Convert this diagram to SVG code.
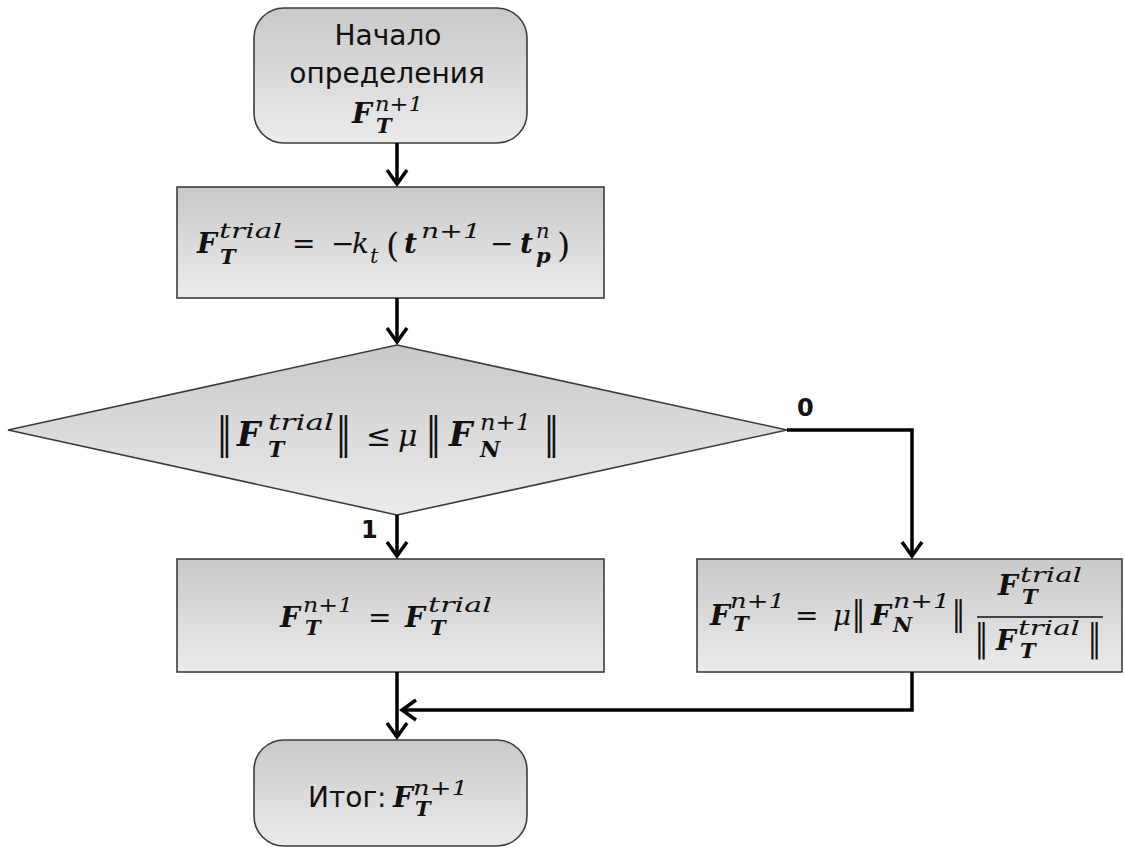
<svg xmlns="http://www.w3.org/2000/svg" width="1125" height="848" viewBox="0 0 1125 848">
  <defs>
    <linearGradient id="fillGrad" x1="0" y1="0" x2="0" y2="1">
      <stop offset="0" stop-color="#c9c9c9"/>
      <stop offset="1" stop-color="#ebebeb"/>
    </linearGradient>
    <marker id="arrow" markerUnits="userSpaceOnUse" viewBox="-18 -13 22 26" refX="0" refY="0" markerWidth="22" markerHeight="26" orient="auto">
      <path d="M-14,-10 L0,0 L-14,10" fill="none" stroke="#000" stroke-width="3.5"/>
    </marker>
  </defs>
  <style>
    .box { fill: url(#fillGrad); stroke: #3c3c3c; stroke-width: 1.6; }
    .wire { fill: none; stroke: #000; stroke-width: 3.5; marker-end: url(#arrow); }
    .txt { font-family: "DejaVu Sans", Verdana, sans-serif; font-size: 28px; fill: #111; }
    .mid { text-anchor: middle; }
    .lbl { font-family: "DejaVu Sans", Verdana, sans-serif; font-weight: bold; font-size: 24px; fill: #111; }
    .m { font-family: "DejaVu Serif", "Liberation Serif", serif; font-size: 28px; fill: #111; }
    .F { font-weight: bold; font-style: italic; }
    .i { font-style: italic; }
    .s { font-size: 21px; }
    .bar { font-family: "DejaVu Sans", sans-serif; font-size: 26px; fill: #111; }
    .par { font-size: 34px; }
    .frac { stroke: #111; stroke-width: 1.6; }
  </style>

  <!-- start terminal -->
  <g id="start">
    <rect class="box" x="254" y="8" width="273" height="135" rx="30"/>
    <text class="txt mid" x="388" y="45">Начало</text>
    <text class="txt mid" x="387" y="83">определения</text>
    <text class="m">
      <tspan class="F" x="352" y="123">F</tspan>
      <tspan class="i s" x="375" y="111" textLength="48" lengthAdjust="spacingAndGlyphs">n+1</tspan>
      <tspan class="F s" x="376" y="133">T</tspan>
    </text>
  </g>

  <!-- trial force -->
  <g id="trial">
    <rect class="box" x="177" y="187" width="427" height="111"/>
    <text class="m">
      <tspan class="F" x="197" y="253">F</tspan>
      <tspan class="i s" x="219" y="238" textLength="63" lengthAdjust="spacingAndGlyphs">trial</tspan>
      <tspan class="F s" x="220" y="264">T</tspan>
      <tspan x="292" y="253">=</tspan>
      <tspan x="331" y="253">−</tspan>
      <tspan class="i" x="352" y="253">k</tspan>
      <tspan class="i s" x="370" y="263">t</tspan>
      <tspan class="par" x="386" y="257">(</tspan>
      <tspan class="F" x="404" y="253">t</tspan>
      <tspan class="i s" x="421" y="238" textLength="60" lengthAdjust="spacingAndGlyphs">n+1</tspan>
      <tspan x="490" y="253">−</tspan>
      <tspan class="F" x="520" y="253">t</tspan>
      <tspan class="i s" x="536" y="238">n</tspan>
      <tspan class="F s" x="536" y="263">p</tspan>
      <tspan class="par" x="557" y="257">)</tspan>
    </text>
  </g>

  <!-- stick condition -->
  <g id="check">
    <polygon class="box" points="397,345 787,430 397,515 8,430"/>
    <text class="bar" transform="translate(217,448) scale(1,1.45)" style="font-size:30px">‖</text>
    <text class="m" style="font-size:30px">
      <tspan class="F" x="237" y="446" style="font-size:33px">F</tspan>
      <tspan class="i" x="268" y="430" style="font-size:22px" textLength="66" lengthAdjust="spacingAndGlyphs">trial</tspan>
      <tspan class="F" x="268" y="457" style="font-size:22px">T</tspan>
      <tspan x="366" y="446">≤</tspan>
      <tspan class="i" x="398" y="446">μ</tspan>
      <tspan class="F" x="449" y="446" style="font-size:33px">F</tspan>
      <tspan class="i" x="480" y="430" style="font-size:22px" textLength="51" lengthAdjust="spacingAndGlyphs">n+1</tspan>
      <tspan class="F" x="480" y="457" style="font-size:22px">N</tspan>
    </text>
    <text class="bar" transform="translate(336,448) scale(1,1.45)" style="font-size:30px">‖</text>
    <text class="bar" transform="translate(426,448) scale(1,1.45)" style="font-size:30px">‖</text>
    <text class="bar" transform="translate(544,448) scale(1,1.45)" style="font-size:30px">‖</text>
  </g>

  <!-- stick branch -->
  <g id="stick">
    <rect class="box" x="177" y="559" width="427" height="113"/>
    <text class="m">
      <tspan class="F" x="280" y="627">F</tspan>
      <tspan class="i s" x="303" y="612" textLength="50" lengthAdjust="spacingAndGlyphs">n+1</tspan>
      <tspan class="F s" x="305" y="635">T</tspan>
      <tspan x="368" y="627">=</tspan>
      <tspan class="F" x="405" y="627">F</tspan>
      <tspan class="i s" x="428" y="612" textLength="64" lengthAdjust="spacingAndGlyphs">trial</tspan>
      <tspan class="F s" x="430" y="635">T</tspan>
    </text>
  </g>

  <!-- slip branch -->
  <g id="slip">
    <rect class="box" x="697" y="559" width="425" height="113"/>
    <text class="m">
      <tspan class="F" x="710" y="625">F</tspan>
      <tspan class="i s" x="730" y="608" textLength="55" lengthAdjust="spacingAndGlyphs">n+1</tspan>
      <tspan class="F s" x="733" y="631">T</tspan>
      <tspan x="795" y="625">=</tspan>
      <tspan class="i" x="833" y="625">μ</tspan>
      <tspan class="F" x="871" y="625">F</tspan>
      <tspan class="i s" x="893" y="608" textLength="57" lengthAdjust="spacingAndGlyphs">n+1</tspan>
      <tspan class="F s" x="893" y="632">N</tspan>
      <tspan class="F" x="998" y="595">F</tspan>
      <tspan class="i s" x="1020" y="582" textLength="62" lengthAdjust="spacingAndGlyphs">trial</tspan>
      <tspan class="F s" x="1022" y="604">T</tspan>
      <tspan class="F" x="996" y="650">F</tspan>
      <tspan class="i s" x="1018" y="635" textLength="62" lengthAdjust="spacingAndGlyphs">trial</tspan>
      <tspan class="F s" x="1020" y="658">T</tspan>
    </text>
    <text class="bar" transform="translate(852,625) scale(1,1.27)">‖</text>
    <text class="bar" transform="translate(952,625) scale(1,1.27)">‖</text>
    <line class="frac" x1="977" y1="617" x2="1103" y2="617"/>
    <text class="bar" transform="translate(975,650) scale(1,1.4)">‖</text>
    <text class="bar" transform="translate(1088,650) scale(1,1.4)">‖</text>
  </g>

  <!-- end terminal -->
  <g id="result">
    <rect class="box" x="254" y="740" width="273" height="106" rx="30"/>
    <text class="txt" x="308" y="807">Итог:</text>
    <text class="m">
      <tspan class="F" x="393" y="807">F</tspan>
      <tspan class="i s" x="413" y="795" textLength="55" lengthAdjust="spacingAndGlyphs">n+1</tspan>
      <tspan class="F s" x="415" y="816">T</tspan>
    </text>
  </g>

  <!-- connectors -->
  <g id="connectors">
    <path class="wire" d="M397,143 V184"/>
    <path class="wire" d="M397,298 V342"/>
    <path class="wire" d="M397,515 V556"/>
    <path class="wire" d="M787,430 H912 V556"/>
    <path class="wire" d="M397,672 V737"/>
    <path class="wire" d="M912,672 V710 H402"/>
    <text class="lbl" x="797" y="416">0</text>
    <text class="lbl" x="361" y="538">1</text>
  </g>
</svg>
